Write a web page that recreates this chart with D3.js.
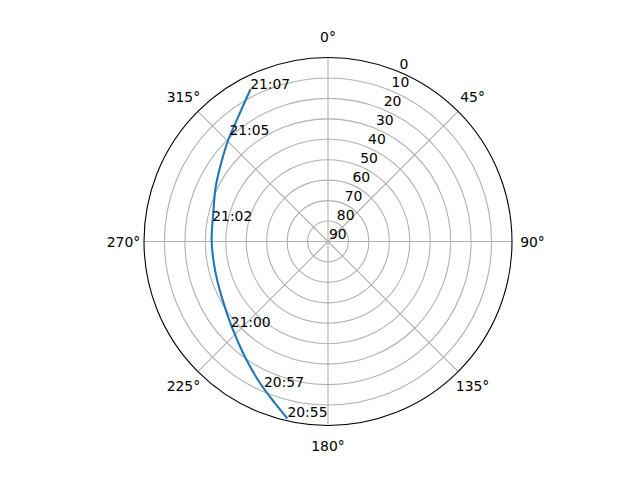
<!DOCTYPE html>
<html>
<head>
<meta charset="utf-8">
<script src="https://cdn.jsdelivr.net/npm/d3@7/dist/d3.min.js"></script>
<style>
  html, body { margin: 0; padding: 0; background: #fff; }
  text { font-family: "DejaVu Sans", sans-serif; font-size: 13.9px; fill: #000; }
</style>
</head>
<body>
<svg id="chart" width="640" height="480"></svg>
<script>
// Satellite pass track: azimuth (deg, clockwise from N) and elevation (deg)
const trackAz = [193.2, 198.1, 205.6, 215.8, 228.5, 242.6, 255.8, 270.0, 283.8, 296.0, 306.2, 315.5, 324.3, 332.8];
const trackEl = [1.5, 6.7, 13.1, 20.5, 27.1, 31.4, 33.0, 33.1, 32.2, 28.9, 25.2, 20.4, 14.8, 6.7];

// Time annotations along the pass
const labelText = ["20:55", "20:57", "21:00", "21:02", "21:05", "21:07"];
const labelAz = [193.0, 203.8, 228.8, 280.0, 317.2, 332.9];
const labelEl = [1.8, 12.4, 26.7, 32.5, 19.0, 6.4];

// Axis ticks
const angleTicks = [0, 45, 90, 135, 180, 225, 270, 315];
const radialTicks = [0, 10, 20, 30, 40, 50, 60, 70, 80, 90];

const cx = 328, cy = 241.5, R = 184;
const svg = d3.select("#chart");
svg.append("rect").attr("width", 640).attr("height", 480).attr("fill", "#fff");
const g = svg.append("g").attr("transform", `translate(${cx},${cy})`);

const r = d3.scaleLinear().domain([0, 90]).range([R, 0]);
const rad = d => d * Math.PI / 180;
const px = (az, el) => [r(el) * Math.sin(rad(az)), -r(el) * Math.cos(rad(az))];

// grid circles
g.selectAll("circle.grid").data(radialTicks.filter(v => v > 0 && v < 90)).join("circle")
  .attr("class", "grid").attr("r", d => r(d))
  .attr("fill", "none").attr("stroke", "#b0b0b0").attr("stroke-width", 1.1);

// angular grid lines
g.selectAll("line.grid").data(angleTicks).join("line")
  .attr("x1", 0).attr("y1", 0)
  .attr("x2", d => px(d, 0)[0]).attr("y2", d => px(d, 0)[1])
  .attr("stroke", "#b0b0b0").attr("stroke-width", 1.1);

// track
const track = trackAz.map((a, i) => ({ az: a, el: trackEl[i] }));
const line = d3.lineRadial()
  .angle(d => rad(d.az))
  .radius(d => r(d.el))
  .curve(d3.curveCatmullRom.alpha(0.5));
g.append("path").attr("d", line(track))
  .attr("fill", "none").attr("stroke", "#1f77b4").attr("stroke-width", 2.1)
  .attr("stroke-linecap", "square");

// spine
g.append("circle").attr("r", R).attr("fill", "none")
  .attr("stroke", "#000").attr("stroke-width", 1.1);

// time labels
labelText.forEach((t, i) => {
  const [x, y] = px(labelAz[i], labelEl[i]);
  g.append("text").attr("x", x).attr("y", y).attr("text-anchor", "start").text(t);
});

// angle labels
g.selectAll("text.ang").data(angleTicks).join("text")
  .attr("class", "ang")
  .attr("x", d => 204.5 * Math.sin(rad(d)))
  .attr("y", d => -204.5 * Math.cos(rad(d)))
  .attr("text-anchor", "middle").attr("dominant-baseline", "central")
  .text(d => d + "°");

// radial labels at 22.5°
g.selectAll("text.rl").data(radialTicks).join("text")
  .attr("class", "rl")
  .attr("x", d => px(22.5, d)[0] + 1)
  .attr("y", d => px(22.5, d)[1] - 3)
  .attr("text-anchor", "start")
  .text(d => d);
</script>
</body>
</html>
